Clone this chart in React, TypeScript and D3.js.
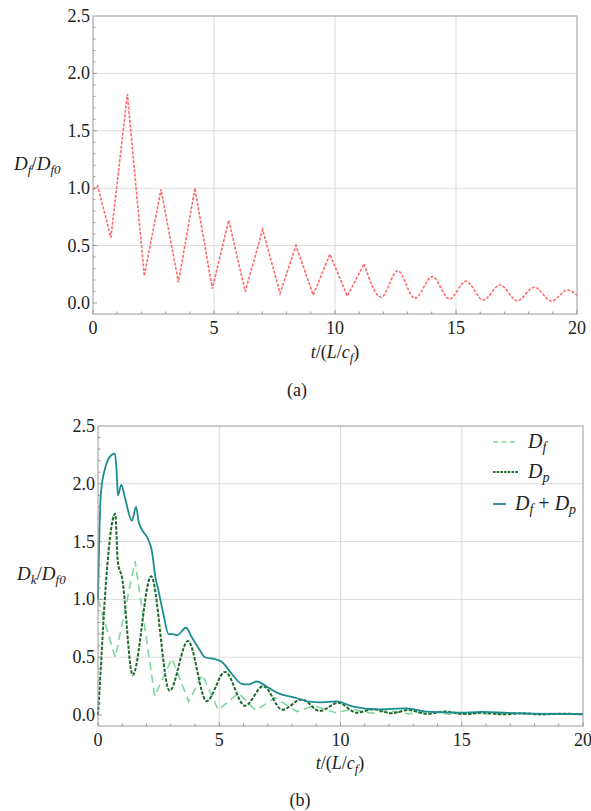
import React from "react";
import * as d3 from "d3";

// ---------- data ----------
const xTicks = [0, 5, 10, 15, 20];
const yTicks = [0, 0.5, 1.0, 1.5, 2.0, 2.5];

// (a) Df / Df0
const tA = [0, 0.19, 0.74, 1.42, 2.12, 2.81, 3.53, 4.21, 4.93, 5.61, 6.29, 7.01, 7.73, 8.39, 9.1, 9.79, 10.51, 11.2, 11.91, 12.59, 13.3, 14.02, 14.73, 15.41, 16.13, 16.82, 17.53, 18.24, 18.95, 19.61, 20];
const vA = [0.99, 1.02, 0.57, 1.82, 0.235, 0.99, 0.18, 1.0, 0.125, 0.72, 0.1, 0.64, 0.085, 0.5, 0.07, 0.425, 0.06, 0.34, 0.05, 0.28, 0.04, 0.23, 0.035, 0.19, 0.026, 0.157, 0.02, 0.137, 0.017, 0.113, 0.067];

// (b) Df
const tDf = [0, 0.71, 1.53, 2.34, 3.05, 3.74, 4.3, 4.96, 5.79, 6.5, 7.3, 8.2, 8.9, 9.8, 10.5, 11.3, 12.0, 12.8, 13.6, 14.5, 15.3, 16.2, 17.0, 17.9, 18.7, 19.5, 20];
const vDf = [1.0, 0.5, 1.33, 0.164, 0.49, 0.115, 0.35, 0.043, 0.19, 0.04, 0.15, 0.03, 0.08, 0.02, 0.05, 0.015, 0.04, 0.01, 0.03, 0.008, 0.02, 0.006, 0.015, 0.005, 0.012, 0.004, 0.008];

// (b) Dp
const tDp = [0, 0.1, 0.28, 0.71, 0.82, 0.99, 1.43, 2.19, 2.95, 3.71, 4.48, 5.24, 6.06, 6.82, 7.6, 8.4, 9.15, 9.91, 10.67, 11.35, 12.1, 12.8, 13.55, 14.3, 15.1, 15.9, 16.7, 17.5, 18.3, 19.1, 20];
const vDp = [0.0, 0.35, 1.0, 1.74, 1.32, 1.19, 0.345, 1.2, 0.21, 0.64, 0.12, 0.373, 0.08, 0.25, 0.045, 0.135, 0.035, 0.106, 0.02, 0.05, 0.015, 0.043, 0.01, 0.03, 0.008, 0.02, 0.006, 0.015, 0.005, 0.012, 0.005];

// (b) Df + Dp
const tSum = [0, 0.06, 0.12, 0.3, 0.56, 0.7, 0.77, 0.82, 0.96, 1.11, 1.4, 1.57, 1.68, 1.82, 2.02, 2.23, 2.36, 2.49, 2.69, 2.91, 3.08, 3.26, 3.63, 3.86, 4.2, 4.41, 4.89, 5.1, 5.5, 5.93, 6.2, 6.54, 7.0, 7.44, 8.12, 8.74, 9.2, 9.84, 10.53, 11.5, 12.73, 13.55, 14.93, 15.8, 17.5, 20];
const vSum = [1.0, 1.6, 1.92, 2.14, 2.25, 2.26, 2.1, 1.9, 1.99, 1.88, 1.68, 1.8, 1.67, 1.6, 1.54, 1.41, 1.2, 1.08, 0.88, 0.7, 0.7, 0.69, 0.755, 0.675, 0.56, 0.5, 0.48, 0.46, 0.36, 0.27, 0.265, 0.29, 0.24, 0.187, 0.15, 0.115, 0.11, 0.118, 0.072, 0.049, 0.057, 0.029, 0.02, 0.027, 0.014, 0.009];

type Pt = [number, number];
const zip = (t: number[], v: number[]): Pt[] => t.map((d, i) => [d, v[i]]);

const SERIF = '"Liberation Serif", "DejaVu Serif", "Times New Roman", serif';
const txt: React.CSSProperties = { fontFamily: SERIF };

interface PanelProps {
  left: number; right: number; top: number; bottom: number; yMin: number;
  children: (x: d3.ScaleLinear<number, number>, y: d3.ScaleLinear<number, number>) => React.ReactNode;
}

function Panel({ left, right, top, bottom, yMin, children }: PanelProps) {
  const x = d3.scaleLinear().domain([0, 20]).range([left, right]);
  const y = d3.scaleLinear().domain([yMin, 2.5]).range([bottom, top]);
  const minorX = d3.range(0, 21, 1);
  const minorY = d3.range(0, 25, 1).map((d) => d / 10);
  return (
    <g>
      {xTicks.filter((d) => d > 0 && d < 20).map((d) => (
        <line key={"gx" + d} x1={x(d)} x2={x(d)} y1={top} y2={bottom} stroke="#dcdcdc" strokeWidth={1} />
      ))}
      {yTicks.filter((d) => d > 0 && d < 2.5).map((d) => (
        <line key={"gy" + d} x1={left} x2={right} y1={y(d)} y2={y(d)} stroke="#dcdcdc" strokeWidth={1} />
      ))}
      {children(x, y)}
      <rect x={left} y={top} width={right - left} height={bottom - top} fill="none" stroke="#9a9a9a" strokeWidth={1} />
      {minorX.map((d) => (
        <line key={"mx" + d} x1={x(d)} x2={x(d)} y1={bottom} y2={bottom - (d % 5 === 0 ? 4 : 2.5)} stroke="#888" strokeWidth={0.8} />
      ))}
      {minorY.map((d) => (
        <line key={"my" + d} x1={left} x2={left + (Math.round(d * 10) % 5 === 0 ? 4 : 2.5)} y1={y(d)} y2={y(d)} stroke="#888" strokeWidth={0.8} />
      ))}
      {xTicks.map((d) => (
        <text key={"tx" + d} x={x(d)} y={bottom + 20} textAnchor="middle" style={txt} fontSize={18} fill="#222">{d}</text>
      ))}
      {yTicks.map((d) => (
        <text key={"ty" + d} x={left - 3} y={y(d) + 6} textAnchor="end" style={txt} fontSize={18} fill="#222">{d.toFixed(1)}</text>
      ))}
    </g>
  );
}

function XLabel({ cx, y }: { cx: number; y: number }) {
  return (
    <text x={cx} y={y} textAnchor="middle" style={txt} fontSize={18} fill="#222">
      <tspan fontStyle="italic">t</tspan>
      <tspan>/(</tspan>
      <tspan fontStyle="italic">L</tspan>
      <tspan>/</tspan>
      <tspan fontStyle="italic">c</tspan>
      <tspan fontStyle="italic" fontSize={13} dy={4}>f</tspan>
      <tspan dy={-4}>)</tspan>
    </text>
  );
}

export default function App() {
  const lineLin = (x: any, y: any) => d3.line<Pt>().x((d) => x(d[0])).y((d) => y(d[1])).curve(d3.curveLinear);
  const lineMono = (x: any, y: any) => d3.line<Pt>().x((d) => x(d[0])).y((d) => y(d[1])).curve(d3.curveMonotoneX);
  const a = zip(tA, vA);
  const split = 17;
  const df = zip(tDf, vDf);
  const dp = zip(tDp, vDp);
  const sum = zip(tSum, vSum);
  const cDf = "#7fd6a0";
  const cDp = "#1f6a2c";
  const cSum = "#1b8d8f";
  const red = "#ff6a6a";

  return (
    <svg width={591} height={811} style={{ position: "absolute", left: 0, top: 0, background: "#fff" }}>
      <rect width={591} height={811} fill="#fff" />
      {/* Panel (a) */}
      <Panel left={93} right={577} top={16} bottom={314} yMin={-0.096}>
        {(x, y) => (
          <g>
            <path d={lineLin(x, y)(a.slice(0, split + 1)) || ""} fill="none" stroke={red} strokeWidth={1.6} strokeDasharray="3,1.5" />
            <path d={lineMono(x, y)(a.slice(split)) || ""} fill="none" stroke={red} strokeWidth={1.6} strokeDasharray="3,1.5" />
          </g>
        )}
      </Panel>
      <text x={14} y={170} style={txt} fontSize={19} fill="#222">
        <tspan fontStyle="italic">D</tspan>
        <tspan fontStyle="italic" fontSize={13} dy={4}>f</tspan>
        <tspan dy={-4}>/</tspan>
        <tspan fontStyle="italic">D</tspan>
        <tspan fontStyle="italic" fontSize={13} dy={4}>f0</tspan>
      </text>
      <XLabel cx={335} y={358} />
      <text x={297} y={396} textAnchor="middle" style={txt} fontSize={18} fill="#222">(a)</text>

      {/* Panel (b) */}
      <Panel left={98} right={583} top={426} bottom={726} yMin={-0.095}>
        {(x, y) => (
          <g>
            <path d={lineLin(x, y)(df) || ""} fill="none" stroke={cDf} strokeWidth={1.6} strokeDasharray="8,5" />
            <path d={lineMono(x, y)(dp) || ""} fill="none" stroke={cDp} strokeWidth={2} strokeDasharray="3.5,1.5" />
            <path d={lineMono(x, y)(sum) || ""} fill="none" stroke={cSum} strokeWidth={1.8} />
          </g>
        )}
      </Panel>
      <text x={17} y={580} style={txt} fontSize={19} fill="#222">
        <tspan fontStyle="italic">D</tspan>
        <tspan fontStyle="italic" fontSize={13} dy={4}>k</tspan>
        <tspan dy={-4}>/</tspan>
        <tspan fontStyle="italic">D</tspan>
        <tspan fontStyle="italic" fontSize={13} dy={4}>f0</tspan>
      </text>
      <XLabel cx={340} y={769} />
      <text x={300} y={806} textAnchor="middle" style={txt} fontSize={18} fill="#222">(b)</text>

      {/* Legend */}
      <g>
        <line x1={493} x2={518} y1={442} y2={442} stroke={cDf} strokeWidth={1.6} strokeDasharray="5,3.5" />
        <text x={528} y={448} style={txt} fontSize={20} fill="#222">
          <tspan fontStyle="italic">D</tspan>
          <tspan fontStyle="italic" fontSize={14} dy={4}>f</tspan>
        </text>
        <line x1={493} x2={518} y1={472} y2={472} stroke={cDp} strokeWidth={2} strokeDasharray="2.5,1.2" />
        <text x={528} y={478} style={txt} fontSize={20} fill="#222">
          <tspan fontStyle="italic">D</tspan>
          <tspan fontStyle="italic" fontSize={14} dy={4}>p</tspan>
        </text>
        <line x1={493} x2={506} y1={504} y2={504} stroke={cSum} strokeWidth={1.8} />
        <text x={515} y={510} style={txt} fontSize={20} fill="#222">
          <tspan fontStyle="italic">D</tspan>
          <tspan fontStyle="italic" fontSize={14} dy={4}>f</tspan>
          <tspan dy={-4}> + </tspan>
          <tspan fontStyle="italic">D</tspan>
          <tspan fontStyle="italic" fontSize={14} dy={4}>p</tspan>
        </text>
      </g>
    </svg>
  );
}
